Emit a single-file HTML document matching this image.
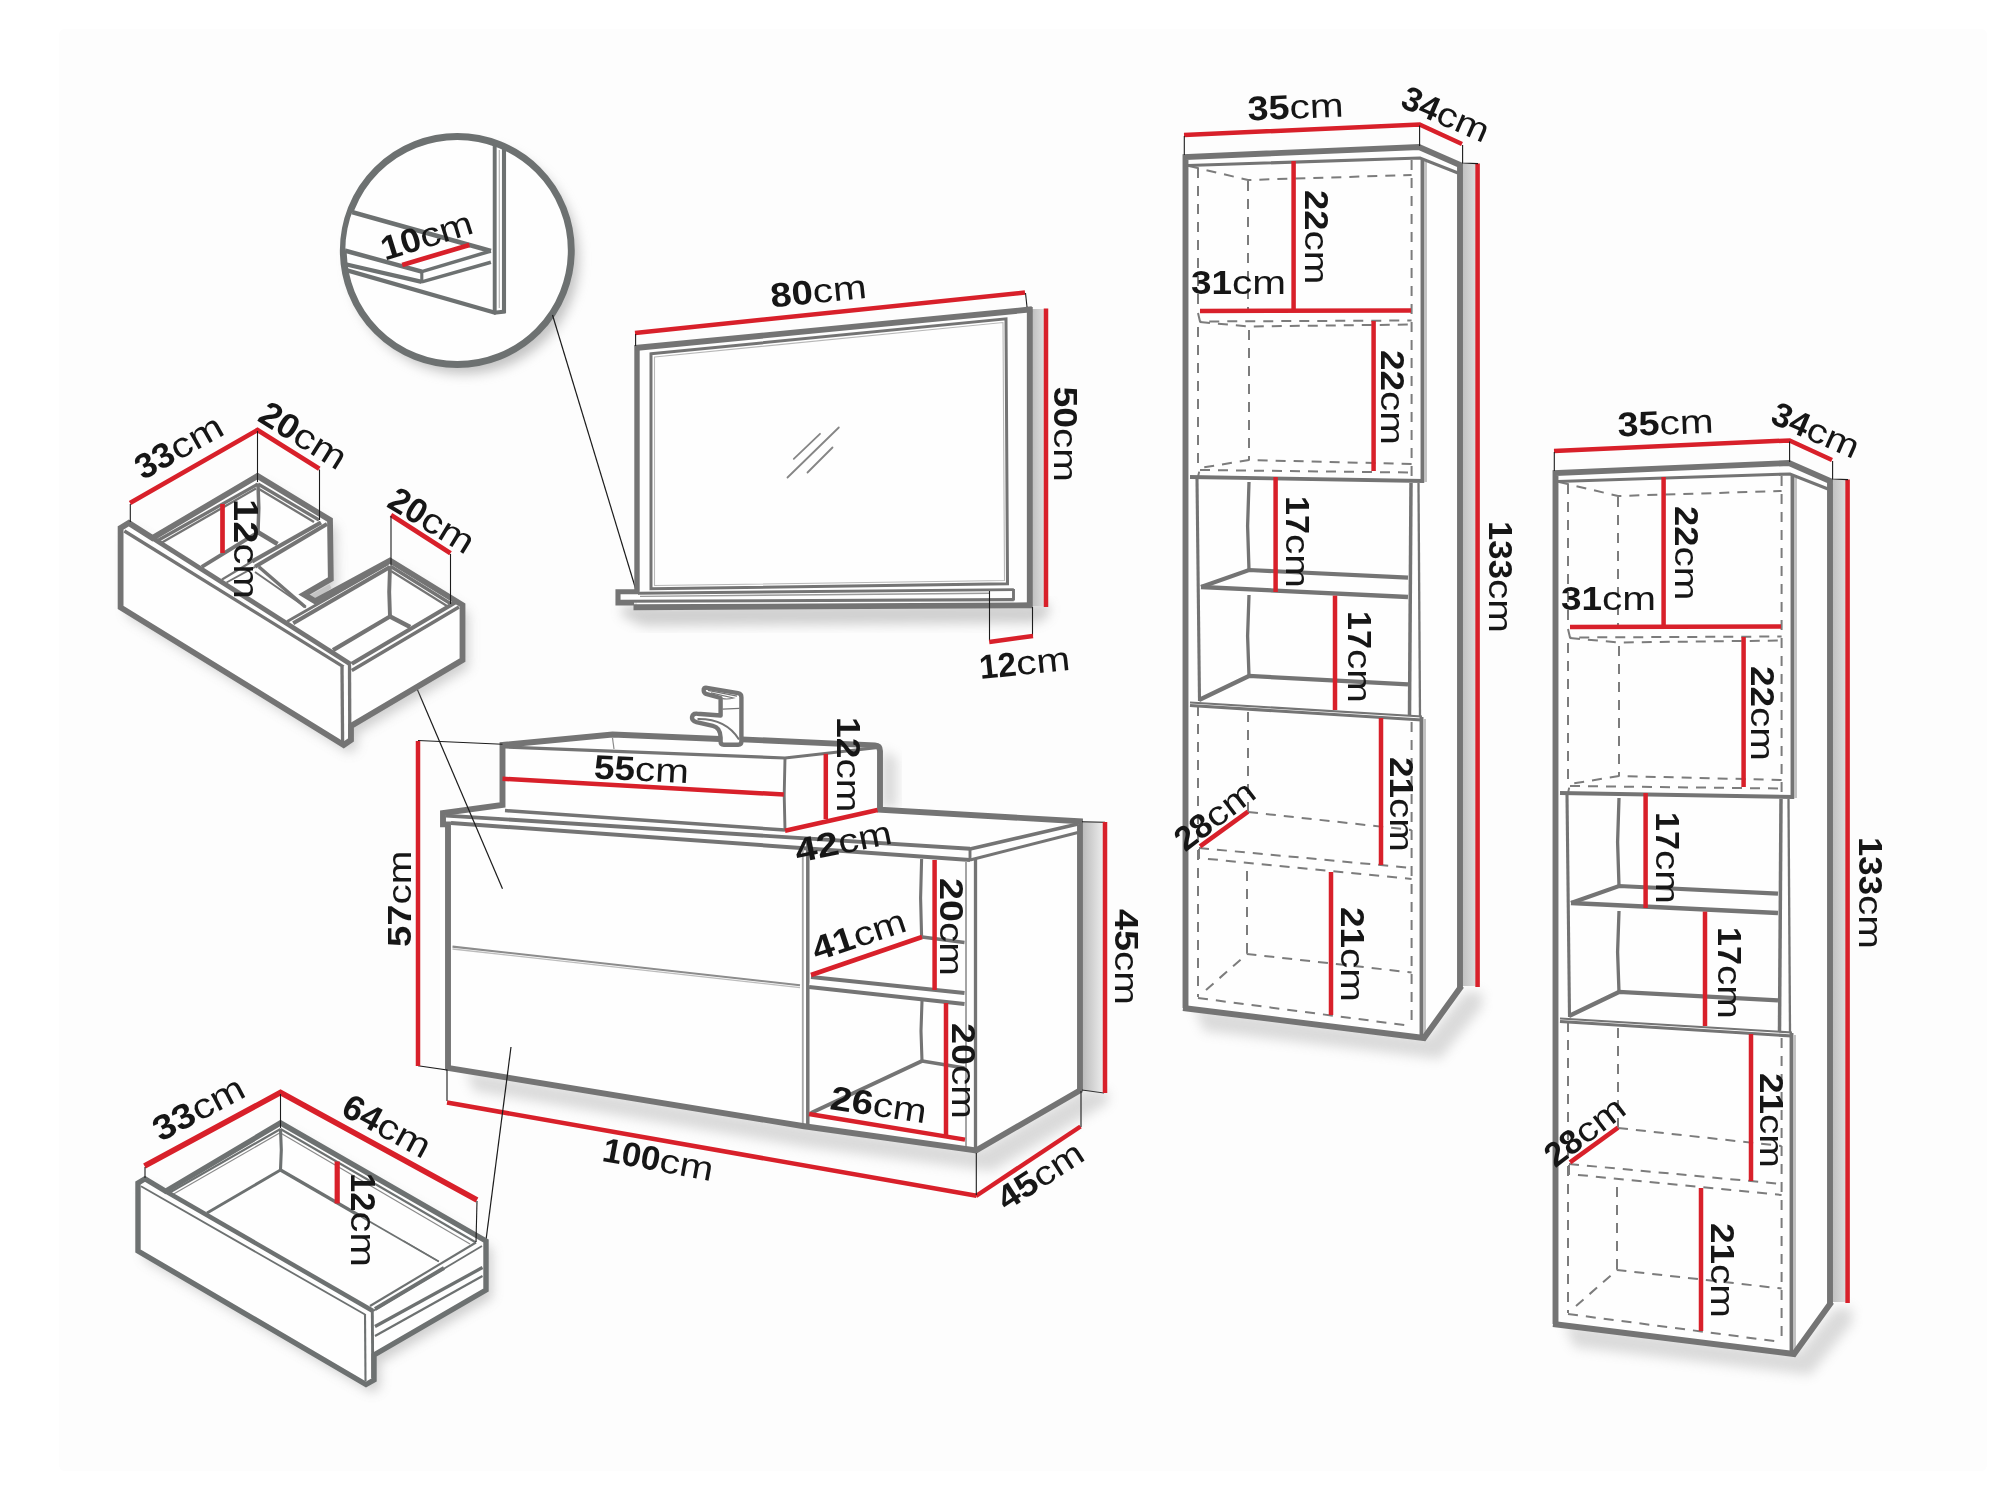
<!DOCTYPE html>
<html><head><meta charset="utf-8"><title>dimensions</title>
<style>
html,body{margin:0;padding:0;background:#fff;}
body{width:2000px;height:1499px;overflow:hidden;}
svg{display:block;will-change:transform;}
text{font-family:"Liberation Sans",sans-serif;fill:#161616;}
.b{font-weight:700;}
</style></head><body>
<svg width="2000" height="1499" viewBox="0 0 2000 1499" stroke-linecap="butt" stroke-linejoin="miter">
<defs>
<filter id="b3" x="-30%" y="-30%" width="160%" height="160%"><feGaussianBlur stdDeviation="3"/></filter>
<filter id="b6" x="-30%" y="-30%" width="160%" height="160%"><feGaussianBlur stdDeviation="6"/></filter>
<filter id="b9" x="-30%" y="-30%" width="160%" height="160%"><feGaussianBlur stdDeviation="9"/></filter>
<linearGradient id="strip" x1="0" y1="0" x2="1" y2="0"><stop offset="0" stop-color="#bfbfbf"/><stop offset="1" stop-color="#dedede"/></linearGradient>
<linearGradient id="strip2" x1="0" y1="0" x2="1" y2="0"><stop offset="0" stop-color="#bcbcbc"/><stop offset="1" stop-color="#ededed"/></linearGradient>
<clipPath id="cc"><circle cx="457.3" cy="250.5" r="112"/></clipPath>
</defs>
<rect x="59" y="29" width="1928" height="1442" rx="6" fill="#fdfdfd"/>
<g id="cab">
<path d="M1194 1007 L1428 1037 L1465 992 L1482 992 L1482 1007 L1440 1059 L1204 1031 Z" fill="#8a8a8a" opacity="0.3" filter="url(#b6)"/>
<path d="M1185 157 L1419 147 L1460 165 L1460 987 L1424 1038 L1185 1008 Z" fill="#fefefe" stroke="none" stroke-width="0"/>
<rect x="1462" y="164" width="15" height="822" fill="url(#strip)"/>
<path d="M1189 166 L1248 180 L1411.6 175" fill="none" stroke="#7c7c7c" stroke-width="2" stroke-dasharray="10 8"/>
<path d="M1198 168 L1198 312" fill="none" stroke="#7c7c7c" stroke-width="2" stroke-dasharray="10 8"/>
<path d="M1248 181 L1248 310" fill="none" stroke="#7c7c7c" stroke-width="2" stroke-dasharray="10 8"/>
<path d="M1411.6 160 L1411.6 476" fill="none" stroke="#7c7c7c" stroke-width="2" stroke-dasharray="10 8"/>
<path d="M1198 313 L1200 321.5 L1411.6 320.5" fill="none" stroke="#7c7c7c" stroke-width="2" stroke-dasharray="10 8"/>
<path d="M1200 322 L1248 326.5 L1411.6 324.5" fill="none" stroke="#7c7c7c" stroke-width="2" stroke-dasharray="10 8"/>
<path d="M1198 327 L1198 470" fill="none" stroke="#7c7c7c" stroke-width="2" stroke-dasharray="10 8"/>
<path d="M1249 330 L1249 460" fill="none" stroke="#7c7c7c" stroke-width="2" stroke-dasharray="10 8"/>
<path d="M1411.6 464 L1249 460 L1200 468 L1198 477" fill="none" stroke="#7c7c7c" stroke-width="2" stroke-dasharray="10 8"/>
<path d="M1200 470 L1411.6 472.5" fill="none" stroke="#7c7c7c" stroke-width="2" stroke-dasharray="10 8"/>
<path d="M1198 706 L1198 997" fill="none" stroke="#7c7c7c" stroke-width="2" stroke-dasharray="10 8"/>
<path d="M1248 712 L1248 811" fill="none" stroke="#7c7c7c" stroke-width="2" stroke-dasharray="10 8"/>
<path d="M1411.6 722 L1411.6 1026" fill="none" stroke="#7c7c7c" stroke-width="2" stroke-dasharray="10 8"/>
<path d="M1248 812 L1411.6 830" fill="none" stroke="#7c7c7c" stroke-width="2" stroke-dasharray="10 8"/>
<path d="M1199 848 L1411.6 868" fill="none" stroke="#7c7c7c" stroke-width="2" stroke-dasharray="10 8"/>
<path d="M1199 849 L1199 858 L1411.6 879" fill="none" stroke="#7c7c7c" stroke-width="2" stroke-dasharray="10 8"/>
<path d="M1247 871 L1247 954" fill="none" stroke="#7c7c7c" stroke-width="2" stroke-dasharray="10 8"/>
<path d="M1206 990 L1247 954 L1411.6 972.5" fill="none" stroke="#7c7c7c" stroke-width="2" stroke-dasharray="10 8"/>
<path d="M1198 998 L1411.6 1026" fill="none" stroke="#7c7c7c" stroke-width="2" stroke-dasharray="10 8"/>
<line x1="1197" y1="479" x2="1199.5" y2="701" stroke="#747474" stroke-width="3.1"/>
<line x1="1411" y1="483" x2="1409.5" y2="716" stroke="#747474" stroke-width="3.5"/>
<line x1="1418.5" y1="483" x2="1420" y2="716" stroke="#747474" stroke-width="2.3"/>
<path d="M1249 482 L1247.6 526 L1249 570" fill="none" stroke="#747474" stroke-width="3.3"/>
<path d="M1201 587 L1249 570 L1408 577.6" fill="none" stroke="#747474" stroke-width="4.2"/>
<line x1="1201" y1="587" x2="1408" y2="597" stroke="#747474" stroke-width="4.3"/>
<path d="M1249 595 L1247.6 636 L1249 676" fill="none" stroke="#747474" stroke-width="3.3"/>
<path d="M1199 700 L1249 676 L1408 684.4" fill="none" stroke="#747474" stroke-width="4.2"/>
<line x1="1190" y1="477" x2="1424" y2="481" stroke="#747474" stroke-width="3.9"/>
<line x1="1422.5" y1="160" x2="1422.5" y2="482.5" stroke="#747474" stroke-width="3.9"/>
<line x1="1426" y1="162" x2="1426" y2="482" stroke="#9a9a9a" stroke-width="1.2"/>
<line x1="1190" y1="702.5" x2="1422" y2="716.5" stroke="#747474" stroke-width="2.1"/>
<line x1="1190" y1="705.5" x2="1422" y2="720" stroke="#747474" stroke-width="3.1"/>
<line x1="1421.5" y1="717" x2="1421.5" y2="1036" stroke="#747474" stroke-width="3.9"/>
<line x1="1425" y1="719" x2="1425" y2="1034" stroke="#9a9a9a" stroke-width="1.2"/>
<path d="M1188 165.5 L1420 158 L1458 173" fill="none" stroke="#747474" stroke-width="3.1"/>
<path d="M1185.5 1008 L1185.5 157 L1419 147 L1460 165 L1460 987" fill="none" stroke="#747474" stroke-width="5.9"/>
<path d="M1183 1008 L1424 1038 L1461.5 986" fill="none" stroke="#747474" stroke-width="5.9"/>
<line x1="1477.6" y1="163.6" x2="1477.6" y2="987" stroke="#d8202a" stroke-width="4.5"/>
<path d="M1184 135 L1419.6 124.4 L1462 144" fill="none" stroke="#d8202a" stroke-width="4.5"/>
<path d="M1184.3 136 L1184.3 155" fill="none" stroke="#1c1c1c" stroke-width="1.1"/>
<path d="M1419.6 125.5 L1419.6 146" fill="none" stroke="#1c1c1c" stroke-width="1.1"/>
<path d="M1462.6 145 L1462.6 163 L1478 163.6" fill="none" stroke="#1c1c1c" stroke-width="1.1"/>
<line x1="1293.6" y1="161" x2="1293.6" y2="311" stroke="#d8202a" stroke-width="4.5"/>
<line x1="1200" y1="311" x2="1411" y2="310.4" stroke="#d8202a" stroke-width="4.5"/>
<line x1="1373.6" y1="321" x2="1373.6" y2="471" stroke="#d8202a" stroke-width="4.5"/>
<line x1="1275.6" y1="477" x2="1275.6" y2="592" stroke="#d8202a" stroke-width="4.5"/>
<line x1="1335" y1="595.6" x2="1335" y2="710" stroke="#d8202a" stroke-width="4.5"/>
<line x1="1381" y1="718" x2="1381" y2="865" stroke="#d8202a" stroke-width="4.5"/>
<line x1="1200" y1="846.4" x2="1248" y2="811.6" stroke="#d8202a" stroke-width="4.5"/>
<line x1="1331" y1="872" x2="1331" y2="1015" stroke="#d8202a" stroke-width="4.5"/>
<g transform="translate(1248 120.5) rotate(-2.4)" font-size="34"><text class="b" textLength="42" lengthAdjust="spacingAndGlyphs">35</text><text x="42" textLength="54" lengthAdjust="spacingAndGlyphs">cm</text></g>
<g transform="translate(1399.1 106.6) rotate(23.5)" font-size="34"><text class="b" textLength="38" lengthAdjust="spacingAndGlyphs">34</text><text x="38" textLength="54" lengthAdjust="spacingAndGlyphs">cm</text></g>
<g transform="translate(1305 190) rotate(90)" font-size="34"><text class="b" textLength="40.4" lengthAdjust="spacingAndGlyphs">22</text><text x="40.4" textLength="54" lengthAdjust="spacingAndGlyphs">cm</text></g>
<g transform="translate(1191 294) rotate(0)" font-size="34"><text class="b" textLength="41" lengthAdjust="spacingAndGlyphs">31</text><text x="41" textLength="54" lengthAdjust="spacingAndGlyphs">cm</text></g>
<g transform="translate(1380.5 350) rotate(90)" font-size="34"><text class="b" textLength="41" lengthAdjust="spacingAndGlyphs">22</text><text x="41" textLength="54" lengthAdjust="spacingAndGlyphs">cm</text></g>
<g transform="translate(1285.5 496) rotate(90)" font-size="34"><text class="b" textLength="38" lengthAdjust="spacingAndGlyphs">17</text><text x="38" textLength="54" lengthAdjust="spacingAndGlyphs">cm</text></g>
<g transform="translate(1347.5 611) rotate(90)" font-size="34"><text class="b" textLength="38" lengthAdjust="spacingAndGlyphs">17</text><text x="38" textLength="54" lengthAdjust="spacingAndGlyphs">cm</text></g>
<g transform="translate(1488.5 521) rotate(90)" font-size="34"><text class="b" textLength="58" lengthAdjust="spacingAndGlyphs">133</text><text x="58" textLength="54" lengthAdjust="spacingAndGlyphs">cm</text></g>
<g transform="translate(1389.5 757) rotate(90)" font-size="34"><text class="b" textLength="41" lengthAdjust="spacingAndGlyphs">21</text><text x="41" textLength="54" lengthAdjust="spacingAndGlyphs">cm</text></g>
<g transform="translate(1185.2 852.6) rotate(-37.5)" font-size="34"><text class="b" textLength="38" lengthAdjust="spacingAndGlyphs">28</text><text x="38" textLength="54" lengthAdjust="spacingAndGlyphs">cm</text></g>
<g transform="translate(1340.5 907) rotate(90)" font-size="34"><text class="b" textLength="41" lengthAdjust="spacingAndGlyphs">21</text><text x="41" textLength="54" lengthAdjust="spacingAndGlyphs">cm</text></g>
</g>
<use href="#cab" transform="translate(370 316)"/>
<circle cx="464" cy="259" r="115" fill="#8a8a8a" opacity="0.5" filter="url(#b6)"/>
<circle cx="457.3" cy="250.5" r="114" fill="#fefefe" stroke="#6d7171" stroke-width="6.9"/>
<g clip-path="url(#cc)">
<path d="M346 251 L421.8 271.6 L490.9 251 L353.3 212.4 L330 206 Z" fill="#fefefe" stroke="none" stroke-width="0"/>
<line x1="340" y1="208.7" x2="490.9" y2="251" stroke="#6d7171" stroke-width="4.5"/>
<line x1="340" y1="249.3" x2="421.8" y2="271.6" stroke="#6d7171" stroke-width="4.5"/>
<line x1="340" y1="263" x2="421.8" y2="281.9" stroke="#6d7171" stroke-width="4.3"/>
<line x1="421.8" y1="271.6" x2="490.9" y2="251" stroke="#6d7171" stroke-width="3.5"/>
<line x1="421.8" y1="281.9" x2="490.9" y2="262.2" stroke="#6d7171" stroke-width="3.5"/>
<line x1="421.8" y1="270.5" x2="421.8" y2="283" stroke="#6d7171" stroke-width="3.1"/>
<line x1="340" y1="268.4" x2="496" y2="313" stroke="#6d7171" stroke-width="4.3"/>
<line x1="494.7" y1="140" x2="494.7" y2="313.5" stroke="#6d7171" stroke-width="3.9"/>
<line x1="504" y1="140" x2="504" y2="313" stroke="#6d7171" stroke-width="4.1"/>
<line x1="499.3" y1="150" x2="499.3" y2="308" stroke="#b5b5b5" stroke-width="1.2"/>
<line x1="494" y1="312.7" x2="505.5" y2="311.5" stroke="#6d7171" stroke-width="3.9"/>
<line x1="402.2" y1="265" x2="469.4" y2="244.9" stroke="#d8202a" stroke-width="4.7"/>
</g>
<g transform="translate(385 260.8) rotate(-17.2)" font-size="34"><text class="b" textLength="40.5" lengthAdjust="spacingAndGlyphs">10</text><text x="40.5" textLength="54" lengthAdjust="spacingAndGlyphs">cm</text></g>
<path d="M552.5 315 L636 590" fill="none" stroke="#1c1c1c" stroke-width="1.2"/>
<path d="M623 605 L1035 603 L1049 603 L1049 615 L1037 623 L643 626 L621 615 Z" fill="#8a8a8a" opacity="0.4" filter="url(#b6)"/>
<path d="M637 347.5 L1029.8 309.5 L1030 606 L637 607.5 Z" fill="#fefefe" stroke="none" stroke-width="0"/>
<rect x="1032" y="309" width="12.5" height="297" fill="url(#strip)"/>
<line x1="1046" y1="308.5" x2="1046" y2="607" stroke="#d8202a" stroke-width="4.5"/>
<path d="M651 353.8 L1006 318.8 L1007.5 583.8 L651 588.8 Z" fill="none" stroke="#747474" stroke-width="3"/>
<path d="M654.5 357 L1003 322.5 L1004.5 580.5 L654.5 585.5 Z" fill="none" stroke="#b8b8b8" stroke-width="1.1"/>
<line x1="787.5" y1="477.5" x2="838.8" y2="427.5" stroke="#858585" stroke-width="1.8" stroke-linecap="round"/>
<line x1="793.8" y1="458.8" x2="820" y2="433.8" stroke="#858585" stroke-width="1.8" stroke-linecap="round"/>
<line x1="807.5" y1="472.5" x2="832.5" y2="447.5" stroke="#858585" stroke-width="1.8" stroke-linecap="round"/>
<line x1="637" y1="345" x2="637" y2="592" stroke="#747474" stroke-width="5.4"/>
<line x1="635" y1="348" x2="1032" y2="309.3" stroke="#747474" stroke-width="5.9"/>
<line x1="1029.8" y1="307" x2="1029.8" y2="608" stroke="#747474" stroke-width="5.9"/>
<line x1="633.5" y1="607.3" x2="1032" y2="605.3" stroke="#747474" stroke-width="5.9"/>
<path d="M618 592 L1013.8 589.5 L1013.8 600 L618 602.5 Z" fill="#fefefe" stroke="none" stroke-width="0"/>
<line x1="638" y1="593.2" x2="1013.8" y2="589.6" stroke="#747474" stroke-width="2.9"/>
<line x1="640" y1="596.4" x2="990" y2="593.3" stroke="#9a9a9a" stroke-width="1.4"/>
<line x1="620" y1="601.3" x2="1013.8" y2="599.6" stroke="#747474" stroke-width="3.1"/>
<line x1="1013.5" y1="589" x2="1013.5" y2="600.5" stroke="#747474" stroke-width="2.9"/>
<path d="M639 591.8 L618 591.8 L618 603 L634 603" fill="none" stroke="#747474" stroke-width="5.1"/>
<line x1="635" y1="333" x2="1025" y2="292.5" stroke="#d8202a" stroke-width="4.5"/>
<path d="M635.6 334 L635.6 346" fill="none" stroke="#1c1c1c" stroke-width="1.1"/>
<path d="M1025.5 293 L1027 307" fill="none" stroke="#1c1c1c" stroke-width="1.1"/>
<path d="M989.5 591 L989.5 641" fill="none" stroke="#1c1c1c" stroke-width="1.1"/>
<path d="M1032.5 607 L1032.5 636" fill="none" stroke="#1c1c1c" stroke-width="1.1"/>
<line x1="989.2" y1="642" x2="1033" y2="636" stroke="#d8202a" stroke-width="4.5"/>
<g transform="translate(771.5 307.6) rotate(-5.8)" font-size="34"><text class="b" textLength="42.5" lengthAdjust="spacingAndGlyphs">80</text><text x="42.5" textLength="54" lengthAdjust="spacingAndGlyphs">cm</text></g>
<g transform="translate(1054 386.5) rotate(90)" font-size="34"><text class="b" textLength="41.5" lengthAdjust="spacingAndGlyphs">50</text><text x="41.5" textLength="54" lengthAdjust="spacingAndGlyphs">cm</text></g>
<g transform="translate(980.5 679.1) rotate(-5.9)" font-size="34"><text class="b" textLength="37" lengthAdjust="spacingAndGlyphs">12</text><text x="37" textLength="54" lengthAdjust="spacingAndGlyphs">cm</text></g>
<path d="M466 1071 L806 1125 L980 1149 L1084 1089 L1108 1091 L1108 1103 L992 1171 L804 1147 L474 1091 Z" fill="#8a8a8a" opacity="0.3" filter="url(#b6)"/>
<path d="M881 750 L897 758 L897 808 L881 808 Z" fill="#8a8a8a" opacity="0.3" filter="url(#b6)"/>
<path d="M448 824 L443 824 L443 813 L502.5 805 L502.5 745 L612.5 734.5 L876 745.5 L880 749 L880 809 L1080 821.4 L1080 1089 L976 1150 L802.5 1126 L448 1068 Z" fill="#fefefe" stroke="none" stroke-width="0"/>
<rect x="1083" y="822" width="20.5" height="269" fill="url(#strip2)"/>
<path d="M703.7 690.8 Q703.2 687.2 707 687.8 L738 693.2 Q741.4 693.8 741.4 697.2 L741.4 741.6 Q741.4 744.8 738.2 744.8 L723.8 744.8 Q720.6 744.8 720.6 741.6 L720.6 737.6 Q720.4 727.6 712.8 725.9 L696.4 722.1 Q691.6 720.8 692 717.3 Q692.5 713.2 697.2 713.7 L720.6 715.5 L720.6 698 L706 693.8 Q704 693.2 703.7 690.8 Z" fill="#fefefe" stroke="#747474" stroke-width="4.4" stroke-linejoin="round"/>
<path d="M708 690.4 L737 696.2 M711 692.8 L733.5 698 Q728 699.6 722.5 698.6 M722.5 709.2 L739.5 708.4" fill="none" stroke="#747474" stroke-width="1.2"/>
<path d="M697.5 719 Q726 718.5 739 739.5" fill="none" stroke="#747474" stroke-width="2"/>
<path d="M505 747 L785 758 L878 747.5" fill="none" stroke="#747474" stroke-width="3.1"/>
<path d="M785 758 L784.2 795 L785 830" fill="none" stroke="#747474" stroke-width="2.9"/>
<line x1="505" y1="810.6" x2="785" y2="830" stroke="#747474" stroke-width="3.5"/>
<line x1="612.5" y1="738" x2="614" y2="749" stroke="#8a8a8a" stroke-width="1.2"/>
<line x1="446" y1="815.6" x2="970" y2="848.8" stroke="#747474" stroke-width="3.9"/>
<line x1="451" y1="823" x2="970" y2="860" stroke="#747474" stroke-width="3.9"/>
<line x1="970" y1="849" x2="1078" y2="824" stroke="#747474" stroke-width="3.5"/>
<line x1="970" y1="860" x2="1078" y2="832.5" stroke="#747474" stroke-width="2.9"/>
<line x1="970" y1="848" x2="970" y2="861" stroke="#747474" stroke-width="2.9"/>
<line x1="452.5" y1="946.6" x2="800" y2="985.2" stroke="#8c8c8c" stroke-width="2.1"/>
<line x1="452.5" y1="949" x2="800" y2="987.6" stroke="#bcbcbc" stroke-width="1.4"/>
<line x1="802.8" y1="842" x2="802.8" y2="1126" stroke="#a8a8a8" stroke-width="1.9"/>
<line x1="807.8" y1="842" x2="807.8" y2="1127" stroke="#747474" stroke-width="3.5"/>
<line x1="966" y1="861" x2="966" y2="1148" stroke="#a0a0a0" stroke-width="1.9"/>
<line x1="975.5" y1="859" x2="975.5" y2="1150" stroke="#747474" stroke-width="3.3"/>
<path d="M921.6 859 L920.6 898 L921.6 937" fill="none" stroke="#747474" stroke-width="3.1"/>
<line x1="922" y1="937" x2="964.5" y2="942.5" stroke="#747474" stroke-width="3.5"/>
<path d="M811 977 L964.5 993 L964.5 1004 L809 987 Z" fill="#fefefe" stroke="none" stroke-width="0"/>
<line x1="811" y1="977" x2="964.5" y2="993" stroke="#747474" stroke-width="4.1"/>
<line x1="809" y1="987" x2="964.5" y2="1004" stroke="#747474" stroke-width="4.1"/>
<path d="M922 1001 L921 1031 L922 1061" fill="none" stroke="#747474" stroke-width="3.1"/>
<line x1="922" y1="1061" x2="811" y2="1113" stroke="#747474" stroke-width="4.1"/>
<line x1="922" y1="1061" x2="964.5" y2="1068" stroke="#747474" stroke-width="3.5"/>
<path d="M448 1069 L448 824.4 L443 824.4 L443 813 L502.5 805 L502.5 745 L612.5 734.5 L720 739" fill="none" stroke="#747474" stroke-width="5.9"/>
<path d="M741.5 739.4 L875 745.4 Q880 745.6 880 751 L880 809.6 L1080 821.4 L1080 1091" fill="none" stroke="#747474" stroke-width="5.9"/>
<path d="M446 1067.6 L802.5 1126 L976 1150.5 L1081.5 1089.5" fill="none" stroke="#747474" stroke-width="5.9"/>
<path d="M418 740.5 L502.5 744.2" fill="none" stroke="#1c1c1c" stroke-width="1.1"/>
<path d="M418 1065.8 L447 1070 L447 1101" fill="none" stroke="#1c1c1c" stroke-width="1.1"/>
<line x1="418" y1="741" x2="418" y2="1066" stroke="#d8202a" stroke-width="4.5"/>
<line x1="447" y1="1102.5" x2="976.5" y2="1195.8" stroke="#d8202a" stroke-width="4.5"/>
<line x1="976" y1="1196" x2="1080.5" y2="1126.5" stroke="#d8202a" stroke-width="4.5"/>
<path d="M976.3 1153 L976.3 1195" fill="none" stroke="#1c1c1c" stroke-width="1.1"/>
<path d="M1081 1091 L1081 1127" fill="none" stroke="#1c1c1c" stroke-width="1.1"/>
<path d="M1082 821.8 L1105 822.3" fill="none" stroke="#1c1c1c" stroke-width="1.1"/>
<path d="M1082 1090 L1104 1093" fill="none" stroke="#1c1c1c" stroke-width="0.9"/>
<line x1="1105" y1="822" x2="1105" y2="1093" stroke="#d8202a" stroke-width="4.5"/>
<line x1="502.5" y1="778.8" x2="783.8" y2="794.5" stroke="#d8202a" stroke-width="4.5"/>
<line x1="825.8" y1="753.8" x2="825.8" y2="819" stroke="#d8202a" stroke-width="4.5"/>
<line x1="785" y1="830.8" x2="877.5" y2="810" stroke="#d8202a" stroke-width="4.5"/>
<line x1="934.6" y1="860" x2="934.6" y2="990" stroke="#d8202a" stroke-width="4.5"/>
<line x1="811" y1="975" x2="922" y2="937" stroke="#d8202a" stroke-width="4.5"/>
<line x1="946" y1="1003" x2="946" y2="1135" stroke="#d8202a" stroke-width="4.5"/>
<line x1="809" y1="1114" x2="965" y2="1139.6" stroke="#d8202a" stroke-width="4.5"/>
<path d="M416.5 687.5 L502.5 888.8" fill="none" stroke="#1c1c1c" stroke-width="1.2"/>
<path d="M511 1047 L486 1240" fill="none" stroke="#1c1c1c" stroke-width="1.2"/>
<g transform="translate(593.5 778.5) rotate(2.8)" font-size="34"><text class="b" textLength="41" lengthAdjust="spacingAndGlyphs">55</text><text x="41" textLength="54" lengthAdjust="spacingAndGlyphs">cm</text></g>
<g transform="translate(836.5 717) rotate(90)" font-size="34"><text class="b" textLength="41.5" lengthAdjust="spacingAndGlyphs">12</text><text x="41.5" textLength="54" lengthAdjust="spacingAndGlyphs">cm</text></g>
<g transform="translate(797.5 862.7) rotate(-11.5)" font-size="34"><text class="b" textLength="44" lengthAdjust="spacingAndGlyphs">42</text><text x="44" textLength="54" lengthAdjust="spacingAndGlyphs">cm</text></g>
<g transform="translate(411 947) rotate(-90)" font-size="34"><text class="b" textLength="42.5" lengthAdjust="spacingAndGlyphs">57</text><text x="42.5" textLength="54" lengthAdjust="spacingAndGlyphs">cm</text></g>
<g transform="translate(816.6 961.3) rotate(-18.5)" font-size="34"><text class="b" textLength="43" lengthAdjust="spacingAndGlyphs">41</text><text x="43" textLength="54" lengthAdjust="spacingAndGlyphs">cm</text></g>
<g transform="translate(939.5 878) rotate(90)" font-size="34"><text class="b" textLength="44" lengthAdjust="spacingAndGlyphs">20</text><text x="44" textLength="54" lengthAdjust="spacingAndGlyphs">cm</text></g>
<g transform="translate(951.5 1023) rotate(90)" font-size="34"><text class="b" textLength="42" lengthAdjust="spacingAndGlyphs">20</text><text x="42" textLength="54" lengthAdjust="spacingAndGlyphs">cm</text></g>
<g transform="translate(829 1108.9) rotate(8.6)" font-size="34"><text class="b" textLength="43" lengthAdjust="spacingAndGlyphs">26</text><text x="43" textLength="54" lengthAdjust="spacingAndGlyphs">cm</text></g>
<g transform="translate(1114.5 909) rotate(90)" font-size="34"><text class="b" textLength="42" lengthAdjust="spacingAndGlyphs">45</text><text x="42" textLength="54" lengthAdjust="spacingAndGlyphs">cm</text></g>
<g transform="translate(601 1160.8) rotate(10.5)" font-size="34"><text class="b" textLength="58" lengthAdjust="spacingAndGlyphs">100</text><text x="58" textLength="54" lengthAdjust="spacingAndGlyphs">cm</text></g>
<g transform="translate(1006.2 1211.5) rotate(-33)" font-size="34"><text class="b" textLength="42" lengthAdjust="spacingAndGlyphs">45</text><text x="42" textLength="54" lengthAdjust="spacingAndGlyphs">cm</text></g>
<path d="M126.6 536 L134.8 531 L158.5 546 L263.5 484 L336 528 L336.8 587 L310 602.5 L321 609.2 L396 568.6 L468.5 613 L468.5 668 L357 734 L357 748 L349.7 753 L126.6 615.5 Z" fill="#8a8a8a" opacity="0.4" filter="url(#b6)"/>
<path d="M120.6 528 L128.8 523 L152.5 538 L257.5 476 L330 520 L330.8 579 L304 594.5 L315 601.2 L390 560.6 L462.5 605 L462.5 660 L351 726 L351 740 L343.7 745 L120.6 607.5 Z" fill="#fefefe" stroke="none" stroke-width="0"/>
<path d="M309 596 L329.5 584.2 L331.5 588 L317 599 Z" fill="#c4c4c4" stroke="none" stroke-width="0"/>
<line x1="156" y1="541.5" x2="258" y2="484" stroke="#747474" stroke-width="3.3"/>
<line x1="162" y1="542.5" x2="256" y2="488.5" stroke="#747474" stroke-width="2.3"/>
<line x1="258" y1="484" x2="319" y2="520" stroke="#747474" stroke-width="3.3"/>
<line x1="259" y1="489" x2="314" y2="522" stroke="#747474" stroke-width="2.3"/>
<path d="M258 484 L258.8 508 L258 532" fill="none" stroke="#747474" stroke-width="3.5"/>
<line x1="258" y1="532.2" x2="201.8" y2="566.8" stroke="#747474" stroke-width="3.9"/>
<line x1="258" y1="532.2" x2="277.5" y2="544" stroke="#747474" stroke-width="4.5"/>
<line x1="321" y1="522.5" x2="252" y2="561.5" stroke="#747474" stroke-width="4.3"/>
<line x1="252" y1="561.5" x2="222" y2="579.5" stroke="#747474" stroke-width="2.1"/>
<line x1="327" y1="524" x2="255" y2="566.8" stroke="#747474" stroke-width="3.9"/>
<line x1="255" y1="566.8" x2="226.5" y2="582.5" stroke="#747474" stroke-width="1.9"/>
<line x1="258.8" y1="566.8" x2="305.3" y2="607" stroke="#747474" stroke-width="3.5"/>
<line x1="255" y1="572" x2="306" y2="607.5" stroke="#747474" stroke-width="1.9"/>
<line x1="287.2" y1="621.4" x2="388" y2="563.8" stroke="#747474" stroke-width="2.9"/>
<line x1="293.2" y1="623.2" x2="390" y2="567" stroke="#747474" stroke-width="3.9"/>
<line x1="390" y1="566" x2="452" y2="604.5" stroke="#747474" stroke-width="3.3"/>
<line x1="391" y1="571" x2="447" y2="606" stroke="#747474" stroke-width="2.1"/>
<path d="M390 566 L389.2 592 L390 616.5" fill="none" stroke="#747474" stroke-width="3.9"/>
<line x1="390" y1="616.5" x2="333" y2="650.2" stroke="#747474" stroke-width="4.3"/>
<line x1="390" y1="616.5" x2="410.2" y2="627" stroke="#747474" stroke-width="4.5"/>
<line x1="456" y1="602" x2="351.8" y2="663.8" stroke="#747474" stroke-width="4.1"/>
<line x1="459" y1="607" x2="351.8" y2="670.5" stroke="#747474" stroke-width="3.5"/>
<line x1="124.4" y1="531" x2="343.5" y2="666.8" stroke="#747474" stroke-width="3.3"/>
<line x1="152.5" y1="538" x2="351" y2="664.5" stroke="#747474" stroke-width="4.9"/>
<line x1="342" y1="667" x2="342.6" y2="743" stroke="#747474" stroke-width="3.3"/>
<line x1="349.5" y1="665" x2="349.8" y2="739" stroke="#747474" stroke-width="3.3"/>
<path d="M120.6 528 L128.8 523 L152.5 538 L257.5 476 L330 520 L330.8 579 L304 594.5 L315 601.2 L390 560.6 L462.5 605 L462.5 660 L351 726 L351 740 L343.7 745 L120.6 607.5 Z" fill="none" stroke="#747474" stroke-width="5.8"/>
<path d="M130 503 L257.5 430 L319.3 468.7" fill="none" stroke="#d8202a" stroke-width="4.7"/>
<line x1="391" y1="515" x2="450.5" y2="553.3" stroke="#d8202a" stroke-width="4.7"/>
<path d="M130.3 504 L130.3 522" fill="none" stroke="#1c1c1c" stroke-width="1.1"/>
<path d="M257.5 431 L257.5 482" fill="none" stroke="#1c1c1c" stroke-width="1.1"/>
<path d="M319.5 469.5 L319.5 520" fill="none" stroke="#1c1c1c" stroke-width="1.1"/>
<path d="M391 516 L391 565" fill="none" stroke="#1c1c1c" stroke-width="1.1"/>
<path d="M450.5 554 L450.5 604" fill="none" stroke="#1c1c1c" stroke-width="1.1"/>
<line x1="222.5" y1="504" x2="222.5" y2="553" stroke="#d8202a" stroke-width="4.7"/>
<g transform="translate(142.9 480.5) rotate(-29.3)" font-size="35"><text class="b" textLength="40" lengthAdjust="spacingAndGlyphs">33</text><text x="40" textLength="55.6" lengthAdjust="spacingAndGlyphs">cm</text></g>
<g transform="translate(256.2 420) rotate(32)" font-size="35"><text class="b" textLength="40.4" lengthAdjust="spacingAndGlyphs">20</text><text x="40.4" textLength="55.6" lengthAdjust="spacingAndGlyphs">cm</text></g>
<g transform="translate(385.6 506) rotate(31.5)" font-size="35"><text class="b" textLength="38.4" lengthAdjust="spacingAndGlyphs">20</text><text x="38.4" textLength="55.6" lengthAdjust="spacingAndGlyphs">cm</text></g>
<g transform="translate(234 499) rotate(90)" font-size="35"><text class="b" textLength="44.4" lengthAdjust="spacingAndGlyphs">12</text><text x="44.4" textLength="55.6" lengthAdjust="spacingAndGlyphs">cm</text></g>
<path d="M144 1191 L151 1186.8 L171.6 1199.2 L286.5 1131 L492 1249 L492 1298 L380 1363 L380 1388 L372 1392.5 L144 1259 Z" fill="#8a8a8a" opacity="0.4" filter="url(#b6)"/>
<path d="M138 1183 L145 1178.8 L165.6 1191.2 L280.5 1123 L486 1241 L486 1290 L374 1355 L374 1380 L366 1384.5 L138 1251 Z" fill="#fefefe" stroke="none" stroke-width="0"/>
<line x1="168" y1="1193.5" x2="280.5" y2="1129" stroke="#6d7171" stroke-width="2.1"/>
<line x1="171" y1="1195.5" x2="280.5" y2="1132.5" stroke="#8a8a8a" stroke-width="1.2"/>
<line x1="280.5" y1="1129" x2="476" y2="1242.5" stroke="#6d7171" stroke-width="2.1"/>
<line x1="280.5" y1="1133" x2="470" y2="1244" stroke="#8a8a8a" stroke-width="1.2"/>
<path d="M280.5 1129 L281.3 1150 L280.5 1170" fill="none" stroke="#6d7171" stroke-width="3.1"/>
<line x1="280.5" y1="1170" x2="207" y2="1213" stroke="#6d7171" stroke-width="2.9"/>
<line x1="280.5" y1="1170" x2="360" y2="1216" stroke="#6d7171" stroke-width="3.3"/>
<line x1="360" y1="1216" x2="438.8" y2="1261.5" stroke="#6d7171" stroke-width="1.8"/>
<line x1="403.8" y1="1241" x2="438.8" y2="1261.5" stroke="#6d7171" stroke-width="1.4"/>
<line x1="370" y1="1306" x2="476" y2="1242.5" stroke="#6d7171" stroke-width="2.1"/>
<line x1="375" y1="1309" x2="444" y2="1268" stroke="#6d7171" stroke-width="3.9"/>
<line x1="373" y1="1311" x2="482" y2="1246" stroke="#6d7171" stroke-width="1.8"/>
<line x1="375" y1="1326.5" x2="482.5" y2="1267.5" stroke="#6d7171" stroke-width="3.3"/>
<line x1="375" y1="1336" x2="482.5" y2="1276" stroke="#6d7171" stroke-width="2.1"/>
<line x1="141" y1="1186.3" x2="365" y2="1314.5" stroke="#6d7171" stroke-width="1.8"/>
<line x1="165.6" y1="1191.2" x2="373" y2="1311" stroke="#6d7171" stroke-width="4.5"/>
<line x1="365" y1="1314" x2="365.5" y2="1381" stroke="#6d7171" stroke-width="2.1"/>
<line x1="372.3" y1="1311" x2="372.8" y2="1378" stroke="#6d7171" stroke-width="2.9"/>
<path d="M138 1183 L145 1178.8 L165.6 1191.2 L280.5 1123 L486 1241 L486 1290 L374 1355 L374 1380 L366 1384.5 L138 1251 Z" fill="none" stroke="#6d7171" stroke-width="5.4"/>
<path d="M144.5 1166 L280.5 1092.5 L477 1200" fill="none" stroke="#d8202a" stroke-width="5.6"/>
<path d="M145 1167 L145 1178" fill="none" stroke="#1c1c1c" stroke-width="1.1"/>
<path d="M280.5 1094 L280.5 1128" fill="none" stroke="#1c1c1c" stroke-width="1.1"/>
<path d="M477 1201 L476 1242" fill="none" stroke="#1c1c1c" stroke-width="1.1"/>
<line x1="337.2" y1="1161.5" x2="337.2" y2="1203.5" stroke="#d8202a" stroke-width="5.2"/>
<g transform="translate(160.4 1142.2) rotate(-28)" font-size="35"><text class="b" textLength="43.4" lengthAdjust="spacingAndGlyphs">33</text><text x="43.4" textLength="55.6" lengthAdjust="spacingAndGlyphs">cm</text></g>
<g transform="translate(339.6 1114) rotate(28.4)" font-size="35"><text class="b" textLength="39.4" lengthAdjust="spacingAndGlyphs">64</text><text x="39.4" textLength="55.6" lengthAdjust="spacingAndGlyphs">cm</text></g>
<g transform="translate(350.5 1173) rotate(90)" font-size="35"><text class="b" textLength="38.4" lengthAdjust="spacingAndGlyphs">12</text><text x="38.4" textLength="55.6" lengthAdjust="spacingAndGlyphs">cm</text></g>
</svg>
</body></html>
